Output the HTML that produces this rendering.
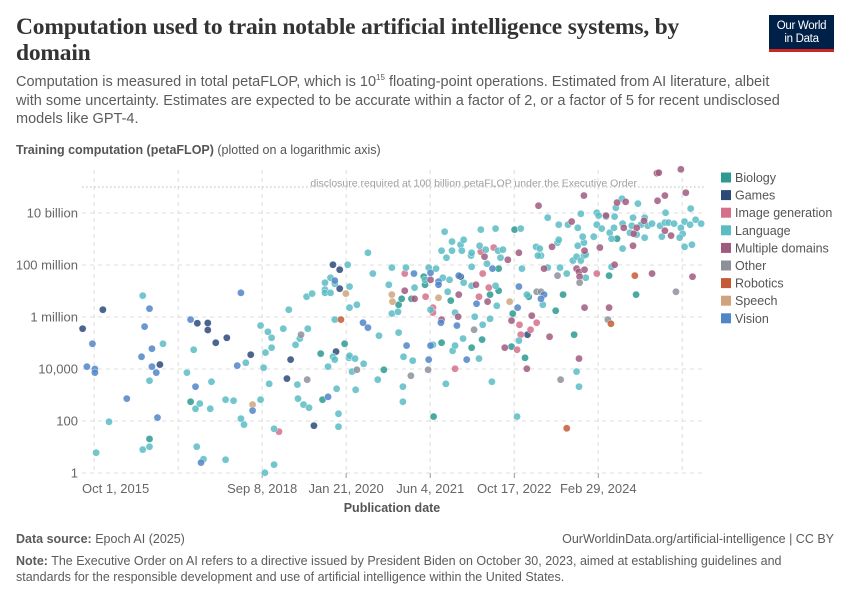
<!DOCTYPE html>
<html><head><meta charset="utf-8"><style>
body{margin:0;background:#fff;font-family:"Liberation Sans",sans-serif;}
#wrap{position:relative;width:850px;height:600px;overflow:hidden;}
.t{position:absolute;white-space:nowrap;}
</style></head><body>
<div id="wrap">
<div class="t" style="left:16px;top:14px;font-family:'Liberation Serif',serif;font-weight:bold;font-size:23.5px;line-height:26px;color:#333;letter-spacing:-0.2px;">Computation used to train notable artificial intelligence systems, by<br>domain</div>
<div style="position:absolute;left:769px;top:15px;width:65px;height:37px;background:#002147;border-bottom:3px solid #ce261e;box-sizing:border-box;color:#fff;font-size:11.5px;line-height:12.5px;text-align:center;padding-top:5px;letter-spacing:-0.3px;">Our World<br>in Data</div>
<div class="t" style="left:16px;top:73px;font-size:14.5px;line-height:18.5px;color:#5b5b5b;">Computation is measured in total petaFLOP, which is 10<sup style="font-size:8px;vertical-align:6px;line-height:0">15</sup> floating-point operations. Estimated from AI literature, albeit<br>with some uncertainty. Estimates are expected to be accurate within a factor of 2, or a factor of 5 for recent undisclosed<br>models like GPT-4.</div>
<div class="t" style="left:16px;top:143px;font-size:12.5px;color:#555;"><b>Training computation (petaFLOP)</b> (plotted on a logarithmic axis)</div>
<svg id="plot" width="850" height="600" style="position:absolute;left:0;top:0"></svg>
<div class="t" style="left:16px;top:532px;font-size:12.5px;color:#5b5b5b;"><b>Data source:</b> Epoch AI (2025)</div>
<div class="t" style="right:16px;top:532px;font-size:12.5px;color:#5b5b5b;">OurWorldinData.org/artificial-intelligence | CC BY</div>
<div class="t" style="left:16px;top:553px;font-size:12.5px;line-height:16px;color:#5b5b5b;"><b>Note:</b> The Executive Order on AI refers to a directive issued by President Biden on October 30, 2023, aimed at establishing guidelines and<br>standards for the responsible development and use of artificial intelligence within the United States.</div>
</div>
<script>
const domainNames=["Biology","Games","Image generation","Language","Multiple domains","Other","Robotics","Speech","Vision"];
const domainColors=["#2d9a91","#2b4a7a","#d4708a","#5bbcc4","#a0597f","#8c9099","#c65a35","#cfa47c","#5185c9"];
const yTickValues=[0,2,4,6,8,10];
const yTickLabels=["1","100","10,000","1 million","100 million","10 billion"];
const xTickYears=[2015.75,2018.686,2020.055,2021.425,2022.795,2024.164];
const xTickLabels=["Oct 1, 2015","Sep 8, 2018","Jan 21, 2020","Jun 4, 2021","Oct 17, 2022","Feb 29, 2024"];
const thresholdExp=11;
const biology=[[2016.85,1.31],[2017.52,2.74],[2019.64,4.59],[2019.67,2.82],[2020.03,4.97],[2020.67,3.97],[2020.91,6.47],[2020.96,6.70],[2021.12,6.70],[2021.32,7.55],[2021.34,7.24],[2021.76,6.63],[2021.61,5.01],[2021.48,2.17],[2022.54,7.86],[2022.54,7.01],[2022.40,6.86],[2022.27,5.13],[2022.10,4.82],[2022.75,4.86],[2022.77,6.13],[2022.97,4.43],[2023.03,6.78],[2023.47,6.24],[2023.59,6.86],[2023.77,5.32],[2022.80,9.36],[2024.34,7.59],[2024.47,9.01],[2024.78,6.86]];
const games=[[2015.76,5.55],[2016.09,6.28],[2017.02,4.17],[2017.63,5.76],[2017.80,5.77],[2017.80,5.50],[2017.93,5.01],[2018.11,5.20],[2018.50,4.55],[2019.09,3.63],[2019.15,4.36],[2019.53,1.82],[2019.84,8.01],[2019.95,7.82],[2019.95,7.09],[2019.89,4.67],[2021.92,7.55],[2023.01,5.32]];
const imageGen=[[2018.96,1.59],[2021.01,7.67],[2021.35,6.78],[2021.47,6.36],[2021.47,6.17],[2021.83,4.01],[2022.25,8.51],[2022.46,8.67],[2022.28,7.67],[2022.38,7.13],[2022.22,6.78],[2022.84,4.74],[2022.90,5.32],[2023.06,5.51],[2023.16,5.78],[2022.88,5.70],[2024.14,7.67]];
const language=[[2015.98,0.78],[2016.19,1.97],[2016.74,6.82],[2017.07,4.97],[2016.85,3.55],[2016.74,0.90],[2016.85,1.01],[2017.46,3.86],[2017.57,4.74],[2017.86,3.51],[2017.60,2.47],[2017.67,2.67],[2017.84,2.47],[2017.62,1.01],[2017.73,0.53],[2018.09,0.51],[2018.09,2.82],[2018.22,2.78],[2018.42,4.24],[2018.34,2.09],[2018.39,1.86],[2018.66,5.67],[2018.78,5.43],[2018.84,5.20],[2018.84,4.82],[2018.74,4.63],[2018.71,4.05],[2018.80,3.43],[2018.66,2.82],[2018.88,1.70],[2018.73,0.01],[2018.88,0.32],[2019.12,6.28],[2019.03,5.55],[2019.26,3.40],[2019.27,2.86],[2019.36,2.63],[2019.45,2.51],[2019.23,4.93],[2019.30,5.17],[2019.43,5.55],[2019.41,6.78],[2019.50,6.90],[2019.76,4.09],[2020.08,8.01],[2019.80,7.51],[2019.71,7.32],[2019.87,7.28],[2019.71,7.05],[2019.71,6.93],[2019.80,6.93],[2020.11,7.17],[2020.11,6.36],[2020.23,6.47],[2019.87,5.90],[2020.41,8.47],[2020.49,7.67],[2019.84,4.47],[2019.87,4.36],[2020.10,4.43],[2020.11,4.51],[2020.20,4.40],[2020.15,3.90],[2020.34,4.20],[2019.90,3.24],[2020.21,3.20],[2019.93,2.28],[2019.93,1.78],[2020.59,5.28],[2020.57,3.59],[2020.98,3.32],[2020.98,2.74],[2020.99,4.47],[2021.14,4.32],[2020.91,5.40],[2020.80,6.13],[2020.90,6.20],[2020.75,7.24],[2020.80,7.90],[2021.03,7.90],[2021.17,7.13],[2021.40,7.90],[2021.52,7.86],[2021.34,7.43],[2021.63,7.51],[2021.74,7.43],[2021.71,6.97],[2021.43,6.28],[2021.83,6.17],[2021.47,4.93],[2021.79,4.70],[2021.83,4.90],[2021.68,3.43],[2021.66,9.28],[2021.78,8.90],[2021.61,8.55],[2021.69,8.28],[2021.78,8.55],[2021.92,8.78],[2021.97,8.97],[2021.94,8.55],[2022.09,8.36],[2022.10,8.47],[2022.25,9.36],[2022.23,8.74],[2022.33,8.59],[2022.35,8.05],[2022.49,9.40],[2022.53,8.55],[2022.61,8.59],[2022.57,8.28],[2022.10,7.93],[2021.97,7.32],[2022.10,7.20],[2022.49,7.20],[2022.51,6.43],[2022.15,6.01],[2022.40,5.93],[2022.28,5.70],[2021.96,5.17],[2022.22,4.40],[2022.43,3.51],[2022.87,5.09],[2022.84,2.17],[2023.00,6.86],[2023.26,6.47],[2023.81,3.90],[2023.85,3.32],[2022.92,7.86],[2022.90,9.40],[2023.15,8.70],[2023.21,8.63],[2023.23,8.36],[2023.18,8.36],[2023.34,7.90],[2023.50,8.86],[2023.52,8.97],[2023.54,7.90],[2023.65,7.67],[2023.75,8.17],[2023.81,8.32],[2023.96,7.51],[2023.88,8.17],[2023.93,8.36],[2023.96,8.40],[2023.83,8.74],[2023.93,8.86],[2023.91,9.09],[2024.09,9.09],[2024.38,7.93],[2024.56,8.63],[2025.57,8.70],[2025.69,8.78],[2023.34,9.82],[2023.52,9.55],[2023.67,9.55],[2023.83,9.43],[2023.88,9.97],[2024.14,10.01],[2024.17,9.90],[2024.29,9.86],[2024.43,9.86],[2024.45,10.20],[2024.55,10.55],[2024.81,10.36],[2024.14,9.55],[2024.22,9.40],[2024.35,9.24],[2024.42,9.43],[2024.38,9.01],[2024.56,9.59],[2024.68,9.24],[2024.73,9.82],[2024.71,9.51],[2024.79,9.17],[2024.86,9.55],[2024.92,9.82],[2024.92,9.05],[2024.97,9.51],[2025.04,9.59],[2025.26,10.01],[2025.17,9.51],[2025.25,9.63],[2025.31,9.63],[2025.40,9.59],[2025.20,9.09],[2025.67,10.17],[2025.57,9.67],[2025.51,9.43],[2025.54,9.20],[2025.49,9.05],[2025.66,9.55],[2025.75,9.74],[2025.84,9.59]];
const multiple=[[2021.01,7.01],[2021.17,6.70],[2021.43,7.43],[2021.89,6.86],[2021.61,5.90],[2021.88,6.01],[2022.31,8.32],[2022.69,8.20],[2022.17,7.24],[2022.36,6.59],[2022.64,4.82],[2022.75,5.86],[2023.08,6.05],[2023.00,4.01],[2023.37,5.24],[2023.85,4.40],[2022.87,8.47],[2023.28,7.86],[2023.41,8.70],[2023.81,7.86],[2023.85,7.74],[2023.86,7.55],[2023.94,7.82],[2023.94,8.55],[2023.94,6.36],[2024.19,8.67],[2024.34,6.36],[2024.43,8.01],[2024.73,8.74],[2025.04,7.67],[2025.70,7.55],[2023.19,10.28],[2023.73,9.67],[2023.93,10.67],[2024.29,9.90],[2024.47,10.40],[2024.61,10.43],[2024.58,9.43],[2024.79,9.43],[2024.74,9.20],[2024.91,9.70],[2025.12,11.53],[2025.15,11.55],[2025.13,10.47],[2025.25,10.67],[2025.25,9.32],[2025.35,9.13],[2025.51,11.68],[2025.59,10.78]];
const other=[[2019.32,5.32],[2019.42,3.59],[2020.23,3.97],[2021.11,3.74],[2021.39,3.97],[2022.14,5.51],[2023.16,6.97],[2023.23,6.97],[2023.55,3.59],[2023.50,7.59],[2023.86,7.32],[2024.32,5.90],[2025.43,6.97]];
const robotics=[[2019.97,5.90],[2023.65,1.72],[2024.37,5.74],[2024.76,7.59]];
const speech=[[2018.53,2.63],[2020.05,6.90],[2020.80,6.86],[2020.81,6.59],[2021.56,6.74],[2022.72,6.59]];
const vision=[[2015.83,4.09],[2015.92,4.97],[2015.96,4.0],[2015.96,3.86],[2016.48,2.86],[2016.85,6.32],[2016.77,5.63],[2016.72,4.47],[2016.89,4.78],[2016.89,4.09],[2016.96,3.86],[2016.98,2.13],[2017.52,5.90],[2017.60,3.32],[2017.69,0.40],[2018.34,6.93],[2018.28,4.13],[2018.53,2.40],[2019.76,2.93],[2019.87,7.40],[2020.33,5.78],[2020.41,5.59],[2021.04,4.90],[2021.16,7.67],[2021.43,7.70],[2021.56,7.36],[2021.56,7.24],[2021.89,7.59],[2021.60,5.78],[2021.86,5.67],[2021.43,4.90],[2021.40,4.36],[2022.02,4.36],[2022.18,6.51],[2022.44,7.86],[2022.85,6.36],[2022.87,7.17],[2023.28,6.86],[2023.23,6.70]];
const series=[biology,games,imageGen,language,multiple,other,robotics,speech,vision];

const NS="http://www.w3.org/2000/svg";
const svg=document.getElementById('plot');
const X0=82,X1=705,Y0=473,PXPERDEC=26,PXPERYR=61.36;
function xs(yr){return X0+(yr-2015.75)*PXPERYR;}
function ys(e){return Y0-e*PXPERDEC;}
function mk(tag,attrs){const el=document.createElementNS(NS,tag);for(const k in attrs)el.setAttribute(k,attrs[k]);svg.appendChild(el);return el;}
yTickValues.forEach((v,i)=>{
  const g=mk('line',{x1:X0,x2:X1,y1:ys(v),y2:ys(v),stroke:'#ddd','stroke-dasharray':'4,4'});
  
  
  const t=mk('text',{x:78,y:ys(v)+4.5,'text-anchor':'end','font-size':'13','fill':'#666','font-family':'Liberation Sans, sans-serif'});
  t.textContent=yTickLabels[i];
  
  
});
for(let k=-2;k<=5;k++){
  const yr=2018.686+k*1.369;
  const g=mk('line',{x1:xs(yr),x2:xs(yr),y1:170,y2:Y0,stroke:'#ddd','stroke-dasharray':'4,4'});
  
  
}
xTickYears.forEach((yr,i)=>{
  const first=i===0;
  const t=mk('text',{x:xs(yr),y:493,'text-anchor':first?'start':'middle','font-size':'13','fill':'#666','font-family':'Liberation Sans, sans-serif'});
  t.textContent=xTickLabels[i];
  
  
  if(!first){const tk=mk('line',{x1:xs(yr),x2:xs(yr),y1:Y0,y2:Y0+5,stroke:'#999'});
  
  }
});
const xt=mk('text',{x:392,y:512,'text-anchor':'middle','font-size':'12.5','font-weight':'bold','fill':'#555','font-family':'Liberation Sans, sans-serif'});
xt.textContent='Publication date';


const th=mk('line',{x1:X0,x2:X1,y1:ys(thresholdExp),y2:ys(thresholdExp),stroke:'#bbb','stroke-dasharray':'1.5,2.5'});


const tt=mk('text',{x:637,y:ys(thresholdExp)-0.5,'text-anchor':'end','font-size':'10.5','fill':'#a0a0a0','font-family':'Liberation Sans, sans-serif'});
tt.textContent='disclosure required at 100 billion petaFLOP under the Executive Order';


series.forEach((pts,si)=>{
  pts.forEach(p=>{
    const c=mk('circle',{cx:xs(p[0]),cy:ys(p[1]),r:3.6,fill:domainColors[si],'fill-opacity':0.85,stroke:'#fff','stroke-width':0.4});
    
    
  });
});
domainNames.forEach((n,i)=>{
  const y=177.5+i*17.6;
  const r=mk('rect',{x:721,y:y-5,width:10,height:10,fill:domainColors[i]});
  
  
  const t=mk('text',{x:735,y:y+4.5,'font-size':'12.5','fill':'#555','font-family':'Liberation Sans, sans-serif'});
  t.textContent=n;
  
  
});
</script>
</body></html>
